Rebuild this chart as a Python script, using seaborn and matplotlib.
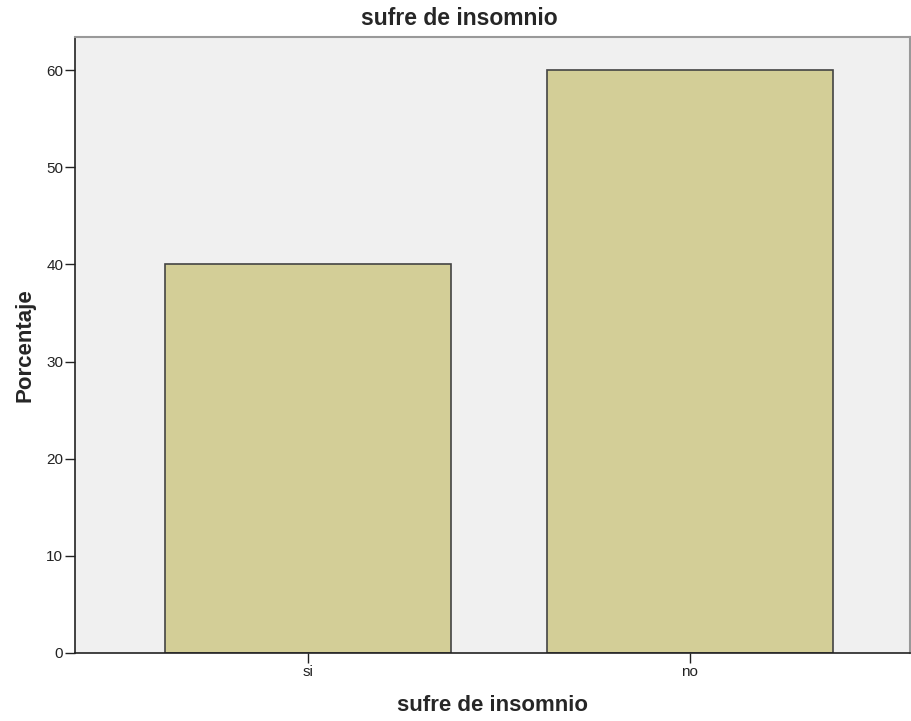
import matplotlib
matplotlib.use("Agg")
import matplotlib.pyplot as plt
import seaborn as sns
import pandas as pd

# datos
categorias = ["si", "no"]
porcentajes = [40, 60]
yticks = [0, 10, 20, 30, 40, 50, 60]

sns.set_style("white")
plt.rcParams["font.family"] = ["Liberation Sans", "DejaVu Sans"]

df = pd.DataFrame({"sufre de insomnio": categorias, "Porcentaje": porcentajes})

fig = plt.figure(figsize=(9.11, 7.21), dpi=100)
ax = fig.add_axes([75 / 911, 68 / 721, 835 / 911, 616 / 721])
ax.set_facecolor("#f0f0f0")

sns.barplot(data=df, x="sufre de insomnio", y="Porcentaje", color="#d3ce97",
            saturation=1, width=0.75, edgecolor="#444444", linewidth=1.2, ax=ax)

ax.set_xlim(-0.61, 1.576)
ax.set_ylim(0, 63.4)
ax.set_yticks(yticks)
ax.tick_params(axis="both", length=7, width=1, color="#222222", labelsize=11,
               labelcolor="#222222", pad=1.5, left=True, bottom=True)

for s in ["left", "bottom"]:
    ax.spines[s].set_color("#222222")
    ax.spines[s].set_linewidth(1.2)
for s in ["top", "right"]:
    ax.spines[s].set_color("#999999")
    ax.spines[s].set_linewidth(1.5)

ax.set_title("sufre de insomnio", fontsize=16.5, fontweight="bold", x=0.46, pad=9)
ax.set_xlabel("sufre de insomnio", fontsize=16, fontweight="bold", labelpad=12)
ax.set_ylabel("Porcentaje", fontsize=16, fontweight="bold", labelpad=8)

fig.savefig("out.png", dpi=100)
